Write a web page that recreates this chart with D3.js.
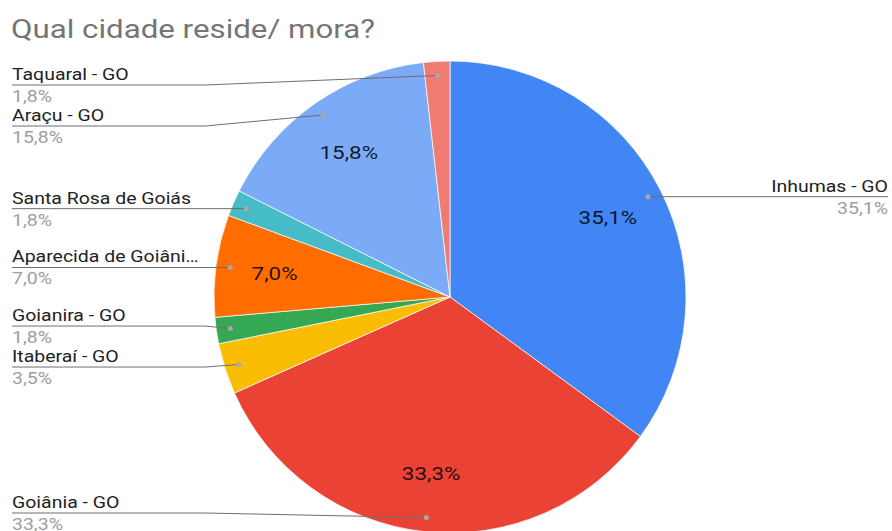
<!DOCTYPE html>
<html>
<head>
<meta charset="utf-8">
<script src="https://cdn.jsdelivr.net/npm/d3@7/dist/d3.min.js"></script>
<style>
  html, body { margin: 0; padding: 0; background: #fff; }
  svg { display: block; }
  text { font-family: Roboto, "Liberation Sans", Arial, sans-serif; }
</style>
</head>
<body>
<svg id="chart" width="892" height="531"></svg>
<script>
// City of residence answers, in slice order (clockwise from 12 o'clock)
const cities = ["Inhumas - GO", "Goiânia - GO", "Itaberaí - GO", "Goianira - GO",
                "Aparecida de Goiânia - GO", "Santa Rosa de Goiás", "Araçu - GO", "Taquaral - GO"];
const shares = [35.1, 33.3, 3.5, 1.8, 7.0, 1.8, 15.8, 1.8];
const sliceColors = ["#4285f4", "#ea4335", "#fbbc04", "#34a853",
                     "#ff6d01", "#46bdc6", "#7baaf7", "#f07b72"];
const chartTitle = "Qual cidade reside/ mora?";

const W = 892, H = 531;
const cx = 450, cy = 297, R = 236;
const sx = 1.18;           // horizontal text stretch
const fmt = v => v.toFixed(1).replace(".", ",") + "%";
const shorten = s => s.length > 20 ? s.slice(0, 19) + "…" : s;

const svg = d3.select("#chart");

const data = cities.map((c, i) => ({ city: c, share: shares[i], color: sliceColors[i] }));

const pie = d3.pie().sort(null).value(d => d.share);
const arcs = pie(data);
const arc = d3.arc().innerRadius(0).outerRadius(R);

const g = svg.append("g").attr("transform", `translate(${cx},${cy})`);

g.selectAll("path.slice")
  .data(arcs)
  .join("path")
  .attr("class", "slice")
  .attr("d", arc)
  .attr("fill", d => d.data.color)
  .attr("stroke", "#fff")
  .attr("stroke-width", 0.7);

// value labels inside slices large enough to hold them
const inner = d3.arc().innerRadius(R * 0.75).outerRadius(R * 0.75);
g.selectAll("g.inlab")
  .data(arcs.filter(d => d.data.share >= 5))
  .join("g")
  .attr("class", "inlab")
  .attr("transform", d => { const [x, y] = inner.centroid(d); return `translate(${x},${y}) scale(${sx},1)`; })
  .append("text")
  .attr("text-anchor", "middle")
  .attr("dy", "0.36em")
  .attr("font-size", 19)
  .attr("fill", "#000")
  .attr("fill-opacity", 0.85)
  .text(d => fmt(d.data.share));

// callout anchors
const dotArc = d3.arc().innerRadius(R * 0.94).outerRadius(R * 0.94);
const callouts = arcs.map(d => {
  const [x, y] = dotArc.centroid(d);
  const mid = (d.startAngle + d.endAngle) / 2;
  return { d, dx: cx + x, dy: cy + y, side: mid > Math.PI ? "left" : "right", ly: cy + y };
});

// spread labels vertically so they don't overlap
const gap = 41, yMin = 85, yMax = 513;
["left", "right"].forEach(side => {
  const list = callouts.filter(c => c.side === side).sort((a, b) => a.ly - b.ly);
  for (let it = 0; it < 200; it++) {
    list.forEach(c => { c.ly = Math.max(yMin, Math.min(yMax, c.ly)); });
    for (let i = 1; i < list.length; i++) {
      const o = gap - (list[i].ly - list[i - 1].ly);
      if (o > 0) { list[i - 1].ly -= o / 2; list[i].ly += o / 2; }
    }
  }
  list.forEach(c => { c.ly = Math.max(yMin, Math.min(yMax, c.ly)); });
});

const leftX = 12, rightX = 888, elbowL = 205, elbowR = 2 * cx - 205;
const lab = svg.append("g");

callouts.forEach(c => {
  const left = c.side === "left";
  const x0 = left ? leftX : rightX;
  const xe = left ? Math.min(elbowL, c.dx) : Math.max(elbowR, c.dx);
  lab.append("path")
    .attr("d", `M${x0},${c.ly}L${xe},${c.ly}L${c.dx},${c.dy}`)
    .attr("fill", "none")
    .attr("stroke", "#6f6f6f")
    .attr("stroke-width", 1);
  lab.append("circle")
    .attr("cx", c.dx).attr("cy", c.dy).attr("r", 2.5)
    .attr("fill", "#a8a8a8");
  const anchor = left ? "start" : "end";
  lab.append("g")
    .attr("transform", `translate(${x0},${c.ly - 5}) scale(${sx},1)`)
    .append("text")
    .attr("text-anchor", anchor)
    .attr("font-size", 16.5)
    .attr("fill", "#222")
    .text(shorten(c.d.data.city));
  lab.append("g")
    .attr("transform", `translate(${x0},${c.ly + 17}) scale(${sx},1)`)
    .append("text")
    .attr("text-anchor", anchor)
    .attr("font-size", 16.5)
    .attr("fill", "#9e9e9e")
    .text(fmt(c.d.data.share));
});

svg.append("g")
  .attr("transform", `translate(11,38) scale(${sx},1)`)
  .append("text")
  .attr("font-size", 26.5)
  .attr("fill", "#757575")
  .text(chartTitle);
</script>
</body>
</html>
